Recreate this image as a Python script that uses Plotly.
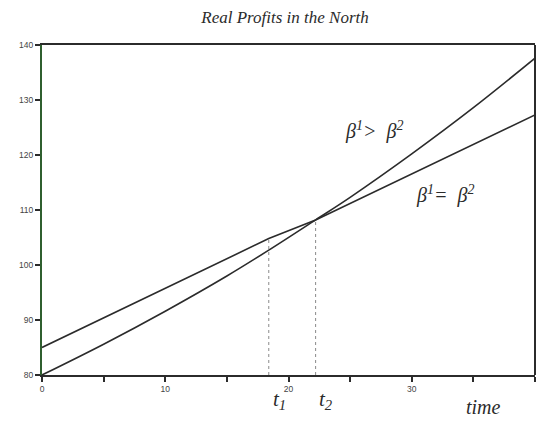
import plotly.graph_objects as go

# Time axis and real-profit readings for the two regimes
time_equal = [0, 18.4, 22.2, 40]
profit_equal = [85.0, 104.8, 108.2, 127.3]

time_greater = [0, 5, 10, 15, 18.4, 22.2, 25, 30, 35, 40]
profit_greater = [80.0, 85.6, 91.6, 98.0, 102.7, 108.2, 112.3, 120.2, 128.6, 137.6]

# Moments marked on the time axis
t_marks = [18.4, 22.2]
t_mark_tops = [104.8, 108.2]
t_mark_names = ["<i>t<sub>1</sub></i>", "<i>t<sub>2</sub></i>"]

x_tickvals = [0, 5, 10, 15, 20, 25, 30, 35, 40]
x_ticktext = ["0", "", "10", "", "20", "", "30", "", "40"]
y_tickvals = [80, 90, 100, 110, 120, 130, 140]

ink = "#2b2b2b"
serif = "Liberation Serif, Times New Roman, serif"
sans = "Liberation Sans, Arial, sans-serif"

W, H = 539, 421
L, R, T, B = 41.7, 4, 45, 46
pw, ph = W - L - R, H - T - B


def to_paper(px, py):
    return (px - L) / pw, 1 - (py - T) / ph


fig = go.Figure()

# Dotted guides from the time axis up to each marked moment
for tm, top in zip(t_marks, t_mark_tops):
    fig.add_trace(go.Scatter(
        x=[tm, tm], y=[80, top], mode="lines",
        line=dict(color="#8a8a8a", width=1, dash="dot"),
        hoverinfo="skip", showlegend=False,
    ))

fig.add_trace(go.Scatter(
    x=time_equal, y=profit_equal, mode="lines",
    line=dict(color=ink, width=1.6), showlegend=False,
))
fig.add_trace(go.Scatter(
    x=time_greater, y=profit_greater, mode="lines",
    line=dict(color=ink, width=1.6, shape="spline", smoothing=1.0),
    showlegend=False,
))

labels = [
    (374, 130, "<i>β<sup>1</sup>>  β<sup>2</sup></i>"),
    (445, 194, "<i>β<sup>1</sup>=  β<sup>2</sup></i>"),
]
fig_annotations = []
for px, py, txt in labels:
    xp, yp = to_paper(px, py)
    fig_annotations.append(dict(
        x=xp, y=yp, xref="paper", yref="paper", text=txt,
        showarrow=False, font=dict(family=serif, size=20, color=ink),
        xanchor="center", yanchor="middle",
    ))

for tm, name in zip(t_marks, t_mark_names):
    fig_annotations.append(dict(
        x=tm + 0.85, y=to_paper(0, 400)[1], xref="x", yref="paper", text=name,
        showarrow=False, font=dict(family=serif, size=21, color=ink),
        xanchor="center", yanchor="middle",
    ))

xp, yp = to_paper(483, 407)
fig_annotations.append(dict(
    x=xp, y=yp, xref="paper", yref="paper", text="<i>time</i>",
    showarrow=False, font=dict(family=serif, size=20, color=ink),
    xanchor="center", yanchor="middle",
))

# Right edge of the frame
fig.add_shape(type="line", xref="paper", yref="paper", x0=1, x1=1, y0=0, y1=1,
              line=dict(color=ink, width=2))

fig.update_layout(
    width=W, height=H,
    margin=dict(l=L, r=R, t=T, b=B),
    paper_bgcolor="white", plot_bgcolor="white",
    title=dict(text="<i>Real Profits in the North</i>", x=285 / W, xanchor="center",
               y=1 - 17 / H, yanchor="middle",
               font=dict(family=serif, size=17, color=ink)),
    annotations=fig_annotations,
    xaxis=dict(range=[0, 40], tickvals=x_tickvals, ticktext=x_ticktext,
               showgrid=False, zeroline=False, showline=True, mirror=True,
               linecolor=ink, linewidth=2, ticks="outside", ticklen=5,
               tickwidth=2, tickcolor=ink,
               tickfont=dict(family=sans, size=8.5, color="#444")),
    yaxis=dict(range=[80, 140], tickvals=y_tickvals,
               showgrid=False, zeroline=False, showline=True, mirror=False,
               linecolor="#2f5f2f", linewidth=2, ticks="outside", ticklen=5,
               tickwidth=2, tickcolor=ink,
               tickfont=dict(family=sans, size=8.5, color="#444")),
)

fig.write_html("out.html")
